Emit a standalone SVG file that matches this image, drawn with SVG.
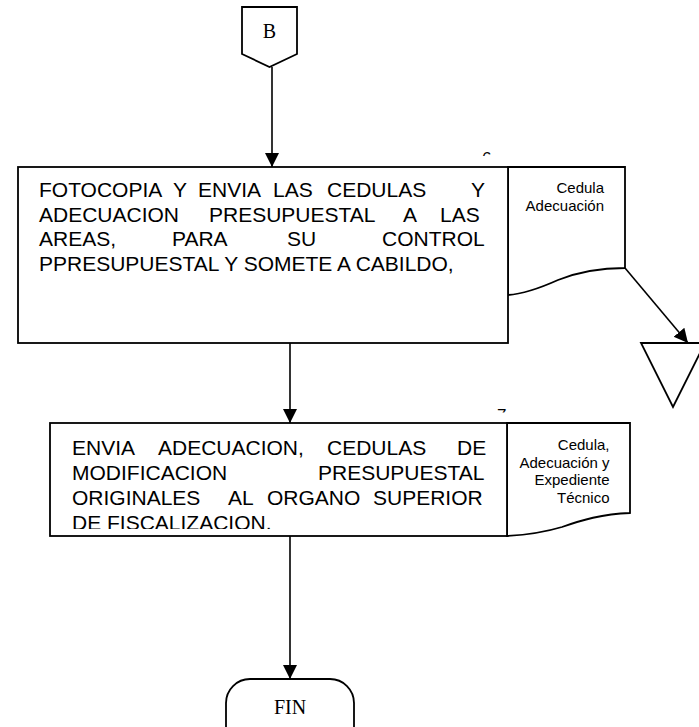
<svg xmlns="http://www.w3.org/2000/svg" width="699" height="727" viewBox="0 0 699 727">
<style>
.shape{fill:#fff;stroke:#000;stroke-width:1.8}
.line{fill:none;stroke:#000;stroke-width:1.6}
.main{font-family:"Liberation Sans",Arial,sans-serif;font-size:21px;fill:#000}
.doc{font-family:"Liberation Sans",Arial,sans-serif;font-size:15px;fill:#000;text-anchor:end}
.serif{font-family:"Liberation Serif","Times New Roman",serif;font-size:20px;fill:#000;text-anchor:middle}
.num{font-family:"Liberation Sans",Arial,sans-serif;font-size:17px;fill:#000}
</style>
<defs>
<marker id="arrow" markerUnits="userSpaceOnUse" markerWidth="16" markerHeight="16" refX="14" refY="7" orient="auto">
<path d="M0,0 L14,7 L0,14 Z" fill="#000"/>
</marker>
<clipPath id="clip6"><rect x="470" y="140" width="40" height="16"/></clipPath>
<clipPath id="clip7"><rect x="485" y="395" width="40" height="17.5"/></clipPath>
<clipPath id="clipBox2"><rect x="50" y="423" width="457" height="106"/></clipPath>
</defs>

<g id="connectors">
<line class="line" x1="272" y1="67" x2="272" y2="167" marker-end="url(#arrow)"/>
<line class="line" x1="290" y1="343" x2="290" y2="423" marker-end="url(#arrow)"/>
<line class="line" x1="290" y1="536" x2="290" y2="679" marker-end="url(#arrow)"/>
<line class="line" x1="625" y1="268" x2="688" y2="343" marker-end="url(#arrow)"/>
</g>

<g id="node-B">
<polygon class="shape" points="242,7 297,7 297,54 269.5,67 242,54"/>
<text class="serif" x="269.5" y="38">B</text>
</g>

<g id="node-doc1">
<path class="shape" d="M508,167 L625,167 L625,268 C600,268 578,272 558,280 C538,289 522,294 508,295 Z"/>
<text class="doc" x="604" y="193">Cedula</text>
<text class="doc" x="604" y="211">Adecuación</text>
</g>

<g id="node-box1">
<rect class="shape" x="18" y="167" width="490" height="176"/>
<text class="main" y="197"><tspan x="39">FOTOCOPIA</tspan><tspan x="173">Y</tspan><tspan x="198">ENVIA</tspan><tspan x="273">LAS</tspan><tspan x="327">CEDULAS</tspan><tspan x="471">Y</tspan></text>
<text class="main" y="221.5"><tspan x="39">ADECUACION</tspan><tspan x="209">PRESUPUESTAL</tspan><tspan x="403">A</tspan><tspan x="440">LAS</tspan></text>
<text class="main" y="246"><tspan x="39">AREAS,</tspan><tspan x="172">PARA</tspan><tspan x="287">SU</tspan><tspan x="382">CONTROL</tspan></text>
<text class="main" x="39" y="270.5">PPRESUPUESTAL Y SOMETE A CABILDO,</text>
</g>

<g id="mark-6" clip-path="url(#clip6)">
<text class="num" x="482" y="164">6</text>
</g>

<g id="node-terminal">
<polygon class="shape" points="641,343 705,343 673,407"/>
</g>

<g id="mark-7" clip-path="url(#clip7)">
<text class="num" x="497" y="420.5">7</text>
</g>

<g id="node-doc2">
<path class="shape" d="M507,423 L630,423 L630,513 C602,514 582,520 562,527 C542,533 525,535 507,536 Z"/>
<text class="doc" x="609.5" y="450">Cedula,</text>
<text class="doc" x="609.5" y="467.5">Adecuación y</text>
<text class="doc" x="609.5" y="485">Expediente</text>
<text class="doc" x="609.5" y="502.5">Técnico</text>
</g>

<g id="node-box2">
<rect class="shape" x="50" y="423" width="457" height="113"/>
<g clip-path="url(#clipBox2)">
<text class="main" y="455"><tspan x="72">ENVIA</tspan><tspan x="158">ADECUACION,</tspan><tspan x="327">CEDULAS</tspan><tspan x="457">DE</tspan></text>
<text class="main" y="480"><tspan x="72">MODIFICACION</tspan><tspan x="318">PRESUPUESTAL</tspan></text>
<text class="main" y="505"><tspan x="72">ORIGINALES</tspan><tspan x="228">AL</tspan><tspan x="267">ORGANO</tspan><tspan x="373">SUPERIOR</tspan></text>
<text class="main" x="72" y="530">DE FISCALIZACION.</text>
</g>
</g>

<g id="node-FIN">
<rect class="shape" x="226" y="679" width="128" height="72" rx="24" ry="24"/>
<text class="serif" x="290" y="714">FIN</text>
</g>
</svg>
